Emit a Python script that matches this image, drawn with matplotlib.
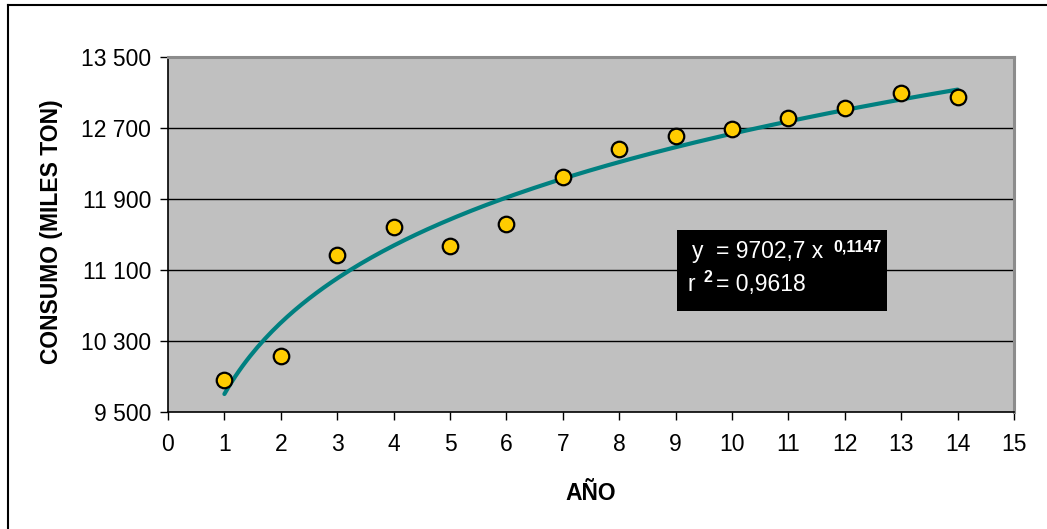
import numpy as np
import matplotlib
matplotlib.use("Agg")
import matplotlib.pyplot as plt
from matplotlib.lines import Line2D
from matplotlib.patches import Rectangle

plt.rcParams['font.family'] = ['Liberation Sans', 'DejaVu Sans']

years = [1, 2, 3, 4, 5, 6, 7, 8, 9, 10, 11, 12, 13, 14]
consumo = [9860, 10130, 11270, 11590, 11370, 11615, 12150, 12465, 12610, 12685, 12810, 12920, 13100, 13050]
coef_a = 9702.7
coef_b = 0.1147
y_ticks = [9500, 10300, 11100, 11900, 12700, 13500]
y_tick_labels = ["9 500", "10 300", "11 100", "11 900", "12 700", "13 500"]
x_ticks = list(range(0, 16))

W, H = 1047, 529
fig = plt.figure(figsize=(W / 100, H / 100), dpi=100)
fig.patch.set_facecolor('white')

L, R, T, B = 168, 1014, 57, 412
ax = fig.add_axes([L / W, 1 - B / H, (R - L) / W, (B - T) / H])
ax.set_facecolor('#C0C0C0')
ax.set_xlim(0, 15)
ax.set_ylim(9500, 13500)

ax.set_yticks(y_ticks)
ax.set_yticklabels(y_tick_labels)
ax.set_xticks(x_ticks)
ax.tick_params(axis='both', direction='out', length=6, width=1, color='black',
               labelsize=16.5, pad=6)
ax.tick_params(axis='x', pad=9)
for yv in y_ticks[1:-1]:
    ax.axhline(yv, color='black', lw=1, zorder=1)

for s in ['left', 'bottom']:
    ax.spines[s].set_color('black')
    ax.spines[s].set_linewidth(1.2)
for s in ['top', 'right']:
    ax.spines[s].set_color('#8C8C8C')
    ax.spines[s].set_linewidth(2.2)

xt = np.linspace(min(years), max(years), 200)
ax.plot(xt, coef_a * xt ** coef_b, color='#008080', lw=3, zorder=3, solid_capstyle='round')
ax.scatter(years, consumo, s=125, color='#FFCC00', edgecolor='black', linewidth=1.6, zorder=4)

ax.set_xlabel('AÑO', fontsize=16.5, fontweight='bold')
ax.set_ylabel('CONSUMO (MILES TON)', fontsize=16.5, fontweight='bold')
ax.xaxis.set_label_coords((591 - L) / (R - L), (B - 493) / (B - T))
ax.yaxis.set_label_coords((52 - L) / (R - L), (B - 232) / (B - T))
ax.xaxis.label.set_va('center')
ax.yaxis.label.set_va('center')

# equation box
x0, y0 = 677 / W, 1 - 311 / H
bw, bh = (887 - 677) / W, (311 - 230) / H
fig.patches.append(Rectangle((x0, y0), bw, bh, transform=fig.transFigure,
                             facecolor='black', edgecolor='none', zorder=5))
fs = 16.5
def ftxt(px, py, s, **kw):
    fig.text(px / W, 1 - py / H, s, color='white', va='baseline', zorder=6, **kw)
ftxt(692, 258, 'y', fontsize=fs)
ftxt(716, 258, '= 9702,7 x', fontsize=fs)
ftxt(833, 251, '0,1147', fontsize=11.5, fontweight='bold')
ftxt(688, 291, 'r', fontsize=fs)
ftxt(704, 282, '2', fontsize=11.5, fontweight='bold')
ftxt(716, 291, '= 0,9618', fontsize=fs)

# outer border
fig.add_artist(Line2D([8 / W, 8 / W], [0, 1 - 5 / H], transform=fig.transFigure, color='black', lw=1.5))
fig.add_artist(Line2D([8 / W, 1], [1 - 5 / H, 1 - 5 / H], transform=fig.transFigure, color='black', lw=1.5))

fig.savefig('out.png', dpi=100)
